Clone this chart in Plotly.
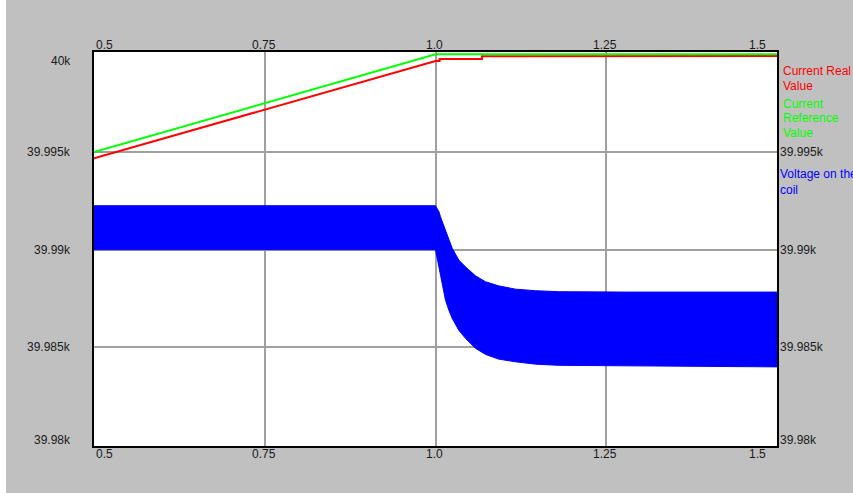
import plotly.graph_objects as go

# ---- data ----
ref_x = [0.5, 1.0, 1.5]
ref_y = [39995.0, 40000.0, 40000.0]

real_x = [0.5, 1.0, 1.006, 1.006, 1.068, 1.068, 1.5]
real_y = [39994.68, 39999.66, 39999.66, 39999.76, 39999.76, 39999.9, 39999.92]

volt_x = [0.5, 0.985, 1.0, 1.0025, 1.005, 1.0073, 1.0098, 1.0146, 1.0195, 1.0245,
          1.0341, 1.0439, 1.0586, 1.0732, 1.0922, 1.117, 1.1464, 1.18, 1.278, 1.5]
volt_upper = [39992.25, 39992.25, 39992.25, 39992.1, 39991.95, 39991.68, 39991.45, 39991.09,
              39990.6, 39990.07, 39989.47, 39989.12, 39988.66, 39988.36, 39988.15, 39987.98,
              39987.9, 39987.85, 39987.83, 39987.83]
volt_lower = [39990.0, 39990.0, 39990.0, 39989.72, 39989.12, 39988.7, 39988.27, 39987.42,
              39986.91, 39986.48, 39985.88, 39985.46, 39984.95, 39984.64, 39984.4, 39984.26,
              39984.14, 39984.08, 39984.03, 39984.0]

x_ticks = [0.5, 0.75, 1.0, 1.25, 1.5]
x_tick_text = ["0.5", "0.75", "1.0", "1.25", "1.5"]
y_ticks = [39980, 39985, 39990, 39995, 40000]
y_tick_text = ["39.98k", "39.985k", "39.99k", "39.995k", "40k"]

series_names = ["Current Real Value", "Current Reference Value", "Voltage on the coil"]
legend_lines = [["Current Real", "Value"], ["Current", "Reference", "Value"], ["Voltage on the", "coil"]]
colors = ["#ff0000", "#00ff00", "#0000ff"]

FONT = "Arial, Liberation Sans, sans-serif"
TXT = "#1a1a1a"

fig = go.Figure()

# voltage band
fig.add_trace(go.Scatter(
    x=volt_x + volt_x[::-1], y=volt_upper + volt_lower[::-1],
    fill="toself", fillcolor=colors[2], mode="lines",
    line=dict(color=colors[2], width=1), name=series_names[2],
    showlegend=False, hoverinfo="skip"))
fig.add_trace(go.Scatter(x=real_x, y=real_y, mode="lines",
                         line=dict(color=colors[0], width=2), name=series_names[0], showlegend=False))
fig.add_trace(go.Scatter(x=ref_x, y=ref_y, mode="lines",
                         line=dict(color=colors[1], width=2), name=series_names[1], showlegend=False))

ann = []
# x tick labels (top and bottom)
for v, t in zip(x_ticks, x_tick_text):
    if v == x_ticks[0]:
        xa, xs = "left", 0
    elif v == x_ticks[-1]:
        xa, xs = "right", -9
    else:
        xa, xs = "center", -1
    for yy, ys in ((1, 7), (0, -8)):
        ann.append(dict(x=v, xref="x", y=yy, yref="paper", text=t, showarrow=False,
                        xanchor=xa, yanchor="middle", xshift=xs, yshift=ys,
                        font=dict(family=FONT, size=12, color=TXT)))
# y tick labels (left and right)
for v, t in zip(y_ticks, y_tick_text):
    if v == y_ticks[-1]:
        ys = -7
    elif v == y_ticks[0]:
        ys = 5
    else:
        ys = 0
    ann.append(dict(x=0, xref="paper", y=v, yref="y", text=t, showarrow=False,
                    xanchor="right", yanchor="middle", xshift=-21, yshift=ys,
                    font=dict(family=FONT, size=12, color=TXT)))
    if v != y_ticks[-1]:
        ann.append(dict(x=1, xref="paper", y=v, yref="y", text=t, showarrow=False,
                        xanchor="left", yanchor="middle", xshift=1, yshift=ys,
                        font=dict(family=FONT, size=12, color=TXT)))

# legend texts (pixel offsets from plot top)
legend_rows = [[19, 33.5], [51.5, 66, 80.5], [122, 138]]
legend_dx = [4, 4, 1]
for lines, rows, dx, c in zip(legend_lines, legend_rows, legend_dx, colors):
    for line, r in zip(lines, rows):
        ann.append(dict(x=1, xref="paper", y=1, yref="paper", text=line, showarrow=False,
                        xanchor="left", yanchor="middle", xshift=dx, yshift=-r,
                        font=dict(family=FONT, size=12, color=c)))

fig.update_layout(
    width=853, height=493,
    margin=dict(l=94, r=76, t=52, b=47, pad=0),
    paper_bgcolor="#c0c0c0", plot_bgcolor="#ffffff",
    annotations=ann,
    shapes=[dict(type="rect", xref="paper", yref="paper", x0=-94 / 683, x1=-88 / 683,
                 y0=-47 / 394, y1=446 / 394, fillcolor="#ffffff", line=dict(width=0), layer="below")],
    xaxis=dict(range=[0.5, 1.5], tickvals=x_ticks[1:-1], showticklabels=False, ticks="",
               showgrid=True, gridcolor="#a0a0a0", gridwidth=2, zeroline=False,
               showline=True, linecolor="#000000", linewidth=2, mirror=True),
    yaxis=dict(range=[39979.95, 40000.12], tickvals=y_ticks[1:-1], showticklabels=False, ticks="",
               showgrid=True, gridcolor="#a0a0a0", gridwidth=2, zeroline=False,
               showline=True, linecolor="#000000", linewidth=2, mirror=True),
)

fig.write_html(
    "out.html",
    config={"displayModeBar": False},
    post_script="document.body.style.margin='0';document.body.style.overflow='hidden';",
)
